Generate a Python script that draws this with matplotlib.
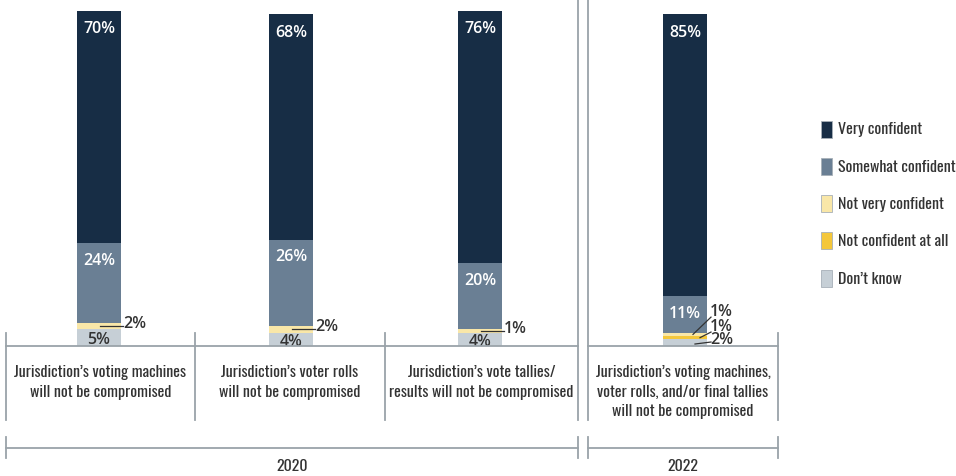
import matplotlib
matplotlib.use("Agg")
import matplotlib.pyplot as plt
from matplotlib.patches import Rectangle

# ---- data -------------------------------------------------------------
categories = [
    "Jurisdiction\u2019s voting machines\nwill not be compromised",
    "Jurisdiction\u2019s voter rolls\nwill not be compromised",
    "Jurisdiction\u2019s vote tallies/\nresults will not be compromised",
    "Jurisdiction\u2019s voting machines,\nvoter rolls, and/or final tallies\nwill not be compromised",
]
years = ["2020", "2022"]
dont_know = [5, 4, 4, 2]
not_at_all = [0, 0, 0, 1]
not_very = [2, 2, 1, 1]
somewhat = [24, 26, 20, 11]
very = [70, 68, 76, 85]

# ---- style ------------------------------------------------------------
colors = {
    "Very confident": "#172d45",
    "Somewhat confident": "#6a7f94",
    "Not very confident": "#f9e7a8",
    "Not confident at all": "#f4c73b",
    "Don\u2019t know": "#c6cfd6",
}
line_col = "#9aa3a9"
dark_txt = "#333333"
cond_font = dict(family="Oswald", fontweight=300)
num_font = dict(family="Open Sans", fontweight=600)

W, H = 956, 477
fig = plt.figure(figsize=(W / 100, H / 100), dpi=100)

# pixel scale of the value axis
base_px = 347.0
px_per_pct = 3.32
ax = fig.add_axes([0, 0, 1, 1])
ax.set_xlim(0, W)
ax.set_ylim(-(H - base_px) / px_per_pct, base_px / px_per_pct)
ax.axis("off")

# overlay in pixel coordinates for frames and legend
ov = fig.add_axes([0, 0, 1, 1], zorder=3)
ov.set_xlim(0, W)
ov.set_ylim(H, 0)
ov.axis("off")
ov.patch.set_alpha(0)

centers = [99, 291.5, 480, 685]
bar_w = 44

stack = [("Don\u2019t know", dont_know), ("Not confident at all", not_at_all),
         ("Not very confident", not_very), ("Somewhat confident", somewhat),
         ("Very confident", very)]
bottoms = [0.0] * 4
for name, vals in stack:
    ax.bar(centers, vals, width=bar_w, bottom=bottoms, color=colors[name],
           linewidth=0, label=name, zorder=2)
    bottoms = [b + v for b, v in zip(bottoms, vals)]

lab_kw = dict(ha="center", va="center", fontsize=11.5, zorder=4, **num_font)
small_kw = dict(ha="left", va="center", fontsize=11.5, zorder=4,
                color=dark_txt, **num_font)
for i, c in enumerate(centers):
    top = dont_know[i] + not_at_all[i] + not_very[i] + somewhat[i] + very[i]
    s_top = top - very[i]
    ax.text(c, top - 5.3, f"{very[i]}%", color="white", **lab_kw)
    ax.text(c, s_top - 5.0, f"{somewhat[i]}%", color="white", **lab_kw)
    if i < 3:
        ax.text(c, dont_know[i] / 2 - 0.5, f"{dont_know[i]}%", color=dark_txt, **lab_kw)
        # leader line for the thin "not very" slice
        y_mid = dont_know[i] + not_at_all[i] + not_very[i] / 2
        ax.plot([c + 1, c + 24], [y_mid, y_mid], color=dark_txt, lw=0.9, zorder=4)
        ax.text(c + 24, y_mid + 0.9, f"{not_very[i]}%", **small_kw)

# stacked leader labels for the last column
c = centers[3]
slices = [
    (dont_know[3] + not_at_all[3] + not_very[3] / 2, not_very[3], 8, 8.7, 10.6),
    (dont_know[3] + not_at_all[3] / 2, not_at_all[3], 15, 4.2, 6.0),
    (dont_know[3] / 2 - 0.4, dont_know[3], 10, 1.2, 2.1),
]
for y0, v, dx, y1, yt in slices:
    ax.plot([c + dx, c + 26], [y0, y1], color=dark_txt, lw=0.9, zorder=4)
    ax.text(c + 25, yt, f"{v}%", **small_kw)

# ---- category frame -------------------------------------------------
lw = 1.3
ov.plot([6, 578], [347, 347], color=line_col, lw=lw)
ov.plot([588, 778], [347, 347], color=line_col, lw=lw)
for x in [6, 195, 385, 778]:
    ov.plot([x, x], [334, 421], color=line_col, lw=lw)
for x in [578, 588]:
    ov.plot([x, x], [0, 421], color=line_col, lw=lw)

box_centers = [100.5, 290, 481.5, 683]
for bx, label in zip(box_centers, categories):
    ov.text(bx, 365, label, ha="center", va="top", fontsize=11.5,
            color=dark_txt, linespacing=1.38, **cond_font)

# ---- year brackets --------------------------------------------------
ov.plot([6, 578], [449, 449], color=line_col, lw=lw)
ov.plot([588, 778], [449, 449], color=line_col, lw=lw)
for x in [6, 578, 588, 778]:
    ov.plot([x, x], [438, 459], color=line_col, lw=lw)
ov.text(292, 467, years[0], ha="center", va="center", fontsize=11.5,
        color=dark_txt, **cond_font)
ov.text(683, 467, years[1], ha="center", va="center", fontsize=11.5,
        color=dark_txt, **cond_font)

# ---- legend ---------------------------------------------------------
legend_order = ["Very confident", "Somewhat confident", "Not very confident",
                "Not confident at all", "Don\u2019t know"]
for k, name in enumerate(legend_order):
    y = 130 + k * 37.3
    ov.add_patch(Rectangle((821, y - 8.5), 11, 17, facecolor=colors[name],
                           edgecolor="#a7b0b8", lw=0.6))
    ov.text(838, y, name, ha="left", va="center", fontsize=11.5,
            color=dark_txt, **cond_font)

fig.savefig("out.png", dpi=100)
